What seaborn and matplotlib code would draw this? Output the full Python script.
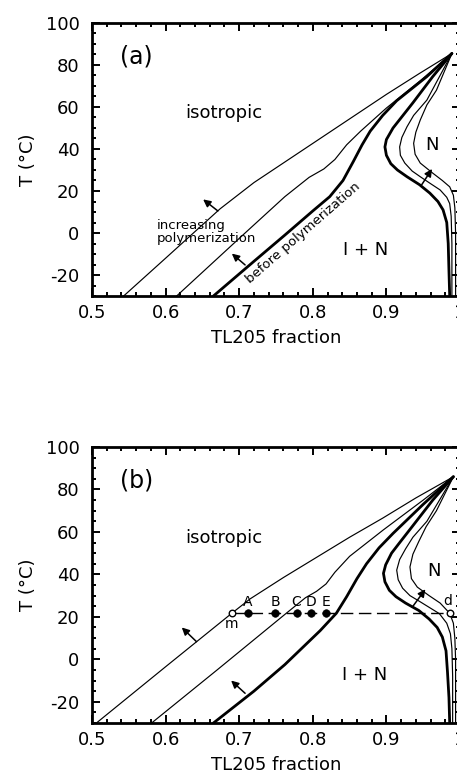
import numpy as np
import matplotlib
matplotlib.use('Agg')
import matplotlib.pyplot as plt
import seaborn as sns

sns.set_style("ticks")
plt.rcParams['font.family'] = ['DejaVu Sans']
plt.rcParams['axes.unicode_minus'] = False
plt.rcParams['text.color'] = 'black'
plt.rcParams['axes.labelcolor'] = 'black'
plt.rcParams['xtick.color'] = 'black'
plt.rcParams['ytick.color'] = 'black'

# ---- panel (a) boundaries (x = TL205 fraction, T in degC) ----
liq1_a_x = [0.543, 0.60, 0.674, 0.72, 0.765, 0.81, 0.855, 0.90, 0.945, 0.989]
liq1_a_t = [-30, -12, 11.5, 24, 34.5, 45, 55.5, 66, 76, 85.5]
liq2_a_x = [0.615, 0.708, 0.762, 0.795, 0.815, 0.83, 0.846, 0.865, 0.90, 0.946, 0.989]
liq2_a_t = [-30, 0, 17.3, 26.5, 30.5, 35, 42, 48.5, 59.5, 72.5, 85.5]
liq0_a_x = [0.665, 0.72, 0.762, 0.80, 0.823, 0.841, 0.855, 0.867, 0.878, 0.895, 0.914, 0.955, 0.989]
liq0_a_t = [-30, -13.5, -1, 10.5, 17.3, 25, 34, 42, 48.5, 56, 63, 74.5, 85.5]

sol0_a_x = [0.989, 0.963, 0.936, 0.918, 0.909, 0.900, 0.898, 0.900, 0.906, 0.915, 0.928, 0.945,
            0.959, 0.970, 0.977, 0.982, 0.984, 0.985, 0.986]
sol0_a_t = [85.5, 74.5, 62, 54, 50, 44.5, 41, 37, 33, 30, 26.8, 23, 19, 15, 11, 5, -5, -18, -30]
sol1_a_x = [0.989, 0.955, 0.937, 0.928, 0.921, 0.918, 0.919, 0.925, 0.935, 0.946, 0.960, 0.973,
            0.982, 0.986, 0.988, 0.989, 0.989]
sol1_a_t = [85.5, 63.3, 56, 50.6, 45.5, 41, 37, 33.3, 29.5, 26.8, 23.5, 20.5, 17, 14, 8, -5, -30]
sol2_a_x = [0.989, 0.968, 0.955, 0.946, 0.940, 0.937, 0.939, 0.946, 0.963, 0.976, 0.986, 0.991,
            0.993, 0.994, 0.994]
sol2_a_t = [85.5, 68, 61, 53.8, 48, 42.7, 37.5, 33.3, 28.5, 25, 22, 18, 12, 0, -30]

# ---- panel (b) boundaries ----
liq1_b_x = [0.506, 0.60, 0.69, 0.715, 0.76, 0.805, 0.85, 0.895, 0.94, 0.991]
liq1_b_t = [-30, -3.5, 21.7, 28.5, 38.5, 48, 57.5, 66.5, 76, 86]
liq2_b_x = [0.581, 0.67, 0.764, 0.79, 0.805, 0.818, 0.83, 0.85, 0.896, 0.95, 0.991]
liq2_b_t = [-30, -5, 21.7, 29, 32, 35.5, 41, 48.5, 61, 75, 86]
liq0_b_x = [0.665, 0.72, 0.762, 0.81, 0.832, 0.846, 0.86, 0.873, 0.89, 0.909, 0.95, 0.991]
liq0_b_t = [-30, -15, -2.5, 13.5, 21.7, 29.5, 38, 45, 52.5, 59.3, 73, 86]

sol0_b_x = [0.991, 0.963, 0.935, 0.917, 0.907, 0.899, 0.896, 0.898, 0.904, 0.913, 0.926, 0.944,
            0.958, 0.969, 0.976, 0.981, 0.983, 0.985, 0.986]
sol0_b_t = [86, 75, 62.5, 54.5, 50, 44.5, 40.5, 36.5, 32.5, 29.5, 26.5, 23, 19, 15, 10.5, 4, -6, -18, -30]
sol1_b_x = [0.991, 0.955, 0.936, 0.926, 0.918, 0.914, 0.916, 0.922, 0.932, 0.944, 0.958, 0.972,
            0.982, 0.987, 0.989, 0.990, 0.990]
sol1_b_t = [86, 65, 57.5, 52, 47, 42, 37.5, 33.5, 30, 27.5, 24.5, 21.5, 17, 12, 5, -8, -30]
sol2_b_x = [0.991, 0.968, 0.954, 0.944, 0.936, 0.932, 0.934, 0.942, 0.958, 0.973, 0.986, 0.991,
            0.993, 0.994, 0.994]
sol2_b_t = [86, 70, 62.5, 55.5, 49.5, 43.5, 38, 34, 30, 26.5, 21.7, 17, 10, 0, -30]

# quench path at 21.7 degC in panel (b)
quench_T = 21.7
sample_names = ['A', 'B', 'C', 'D', 'E']
sample_x = [0.712, 0.749, 0.778, 0.798, 0.818]
m_x, d_x = 0.690, 0.986

x_ticks = [0.5, 0.6, 0.7, 0.8, 0.9, 1.0]
x_labels = ['0.5', '0.6', '0.7', '0.8', '0.9', '1']
y_ticks = [-20, 0, 20, 40, 60, 80, 100]

fig = plt.figure(figsize=(4.57, 7.74), dpi=100)
ax_a = fig.add_axes([92 / 457, 1 - 296 / 774, 368 / 457, 273 / 774])
ax_b = fig.add_axes([92 / 457, 1 - 723 / 774, 368 / 457, 276 / 774])

thin, thick = 0.85, 2.0


def draw(ax, x, t, lw):
    sns.lineplot(x=x, y=t, sort=False, estimator=None, color='black',
                 lw=lw, ax=ax, legend=False)


def arrow(ax, start, end):
    ax.annotate('', xy=end, xytext=start,
                arrowprops=dict(arrowstyle='-|>', color='black', lw=1.1,
                                mutation_scale=11, shrinkA=0, shrinkB=0))


def style(ax, letter):
    ax.set_xlim(0.5, 1.0)
    ax.set_ylim(-30, 100)
    ax.set_xticks(x_ticks)
    ax.set_xticklabels(x_labels)
    ax.set_yticks(y_ticks)
    ax.set_xticks(np.arange(0.5, 1.001, 0.02), minor=True)
    ax.set_yticks(np.arange(-30, 101, 5), minor=True)
    ax.tick_params(which='both', direction='in', top=True, right=True,
                   width=1.4, labelsize=13, color='black')
    ax.tick_params(which='major', length=5.5)
    ax.tick_params(which='minor', length=3)
    ax.tick_params(axis='y', pad=9)
    ax.tick_params(axis='x', pad=6)
    for s in ax.spines.values():
        s.set_linewidth(2.0)
        s.set_color('black')
    ax.set_xlabel('TL205 fraction', fontsize=13, labelpad=5)
    ax.set_ylabel('T (°C)', fontsize=13, labelpad=6)
    ax.text(0.560, 84, letter, fontsize=17, ha='center', va='center')
    ax.text(0.679, 57, 'isotropic', fontsize=13, ha='center', va='center')


# panel (a)
for x, t, lw in [(liq1_a_x, liq1_a_t, thin), (liq2_a_x, liq2_a_t, thin),
                 (liq0_a_x, liq0_a_t, thick), (sol0_a_x, sol0_a_t, thick),
                 (sol1_a_x, sol1_a_t, thin), (sol2_a_x, sol2_a_t, thin)]:
    draw(ax_a, x, t, lw)
style(ax_a, '(a)')
arrow(ax_a, (0.671, 10.5), (0.651, 16.0))
arrow(ax_a, (0.708, -15.2), (0.690, -9.8))
arrow(ax_a, (0.948, 23.0), (0.962, 30.5))
ax_a.text(0.588, 0.5, 'increasing\npolymerization', fontsize=9.5,
          ha='left', va='center', linespacing=1.05)
ax_a.text(0.787, 0.0, 'before polymerization', fontsize=9.5, rotation=41,
          rotation_mode='anchor', ha='center', va='center')
ax_a.text(0.872, -8, 'I + N', fontsize=13, ha='center', va='center')
ax_a.text(0.962, 42, 'N', fontsize=13, ha='center', va='center')

# panel (b)
for x, t, lw in [(liq1_b_x, liq1_b_t, thin), (liq2_b_x, liq2_b_t, thin),
                 (liq0_b_x, liq0_b_t, thick), (sol0_b_x, sol0_b_t, thick),
                 (sol1_b_x, sol1_b_t, thin), (sol2_b_x, sol2_b_t, thin)]:
    draw(ax_b, x, t, lw)
style(ax_b, '(b)')
sns.lineplot(x=[m_x, d_x], y=[quench_T, quench_T], color='black', lw=1.0,
             ax=ax_b, linestyle=(0, (9, 4)), legend=False)
sns.scatterplot(x=sample_x, y=[quench_T] * len(sample_x), color='black',
                s=30, edgecolor='black', ax=ax_b, zorder=5, legend=False)
sns.scatterplot(x=[m_x, d_x], y=[quench_T, quench_T], color='white',
                s=22, edgecolor='black', linewidth=1.0, ax=ax_b, zorder=6,
                legend=False)
for name, xv in zip(sample_names, sample_x):
    ax_b.text(xv, quench_T + 2.2, name, fontsize=10, ha='center', va='bottom')
ax_b.text(m_x, quench_T - 1.8, 'm', fontsize=10, ha='center', va='top')
ax_b.text(d_x - 0.003, quench_T + 2.5, 'd', fontsize=10, ha='center', va='bottom')
arrow(ax_b, (0.642, 8.3), (0.622, 15.0))
arrow(ax_b, (0.708, -16.0), (0.689, -10.0))
arrow(ax_b, (0.935, 24.5), (0.953, 33.0))
ax_b.text(0.871, -7.5, 'I + N', fontsize=13, ha='center', va='center')
ax_b.text(0.964, 41.5, 'N', fontsize=13, ha='center', va='center')

fig.savefig('out.png', dpi=100)
